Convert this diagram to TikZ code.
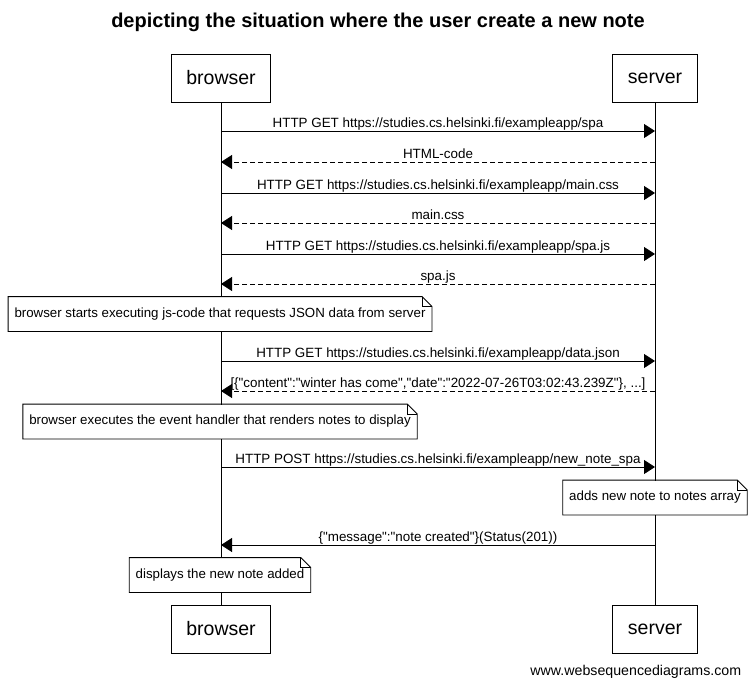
\documentclass[tikz,border=0pt]{standalone}
\usepackage{fontspec}
\setmainfont{Liberation Sans}
\usetikzlibrary{positioning, arrows.meta}
\tikzset{
    actor/.style={draw, fill=white, minimum height=48pt, inner xsep=15pt,
        font=\fontsize{19.5}{22}\selectfont}, % the participant boxes
    msg/.style={-{Triangle[length=11pt,width=14pt]}}, % a request
    reply/.style={msg, dash pattern=on 5pt off 3pt}, % a dashed answer
    msgtext/.style={anchor=base, yshift=4pt, inner sep=0pt,
        font=\fontsize{13.4}{15}\selectfont},
    note/.style={fill=white, minimum height=34pt, inner xsep=6pt,
        font=\fontsize{13.3}{15}\selectfont}, % outline is drawn later
}

\begin{document}
\begin{tikzpicture}[x=1pt, y=-1pt, line width=0.9pt]
    \useasboundingbox (0,0) rectangle (754,688);

    \node[font=\bfseries\fontsize{20}{23}\selectfont] (title) at (378,22)
        {depicting the situation where the user create a new note};

    \node[actor] (browser) at (221,78) {browser};
    \node[actor] (server) at (655,78) {server};
    \node[actor] (browser2) at (221,629) {browser};
    \node[actor] (server2) at (655,629) {server};

    % lifelines
    \draw (browser) -- (browser2);
    \draw (server) -- (server2);

    % message ends on both lifelines
    \foreach \i/\y in {1/131, 2/162, 3/193, 4/223, 5/254, 6/284, 7/361, 8/391, 9/467, 10/545}{
        \coordinate (b\i) at (221,\y);
        \coordinate (s\i) at (655,\y);
    }

    \draw[msg]   (b1) -- node[msgtext]{HTTP GET https://studies.cs.helsinki.fi/exampleapp/spa} (s1);
    \draw[reply] (s2) -- node[msgtext]{HTML-code} (b2);
    \draw[msg]   (b3) -- node[msgtext]{HTTP GET https://studies.cs.helsinki.fi/exampleapp/main.css} (s3);
    \draw[reply] (s4) -- node[msgtext]{main.css} (b4);
    \draw[msg]   (b5) -- node[msgtext]{HTTP GET https://studies.cs.helsinki.fi/exampleapp/spa.js} (s5);
    \draw[reply] (s6) -- node[msgtext]{spa.js} (b6);

    \node[note] (n1) at (220,314) {browser starts executing js-code that requests JSON data from server};

    \draw[msg]   (b7) -- node[msgtext]{HTTP GET https://studies.cs.helsinki.fi/exampleapp/data.json} (s7);
    \draw[reply] (s8) -- node[msgtext]{[\{\textquotedbl content\textquotedbl:\textquotedbl winter has come\textquotedbl,\textquotedbl date\textquotedbl:\textquotedbl 2022-07-26T03:02:43.239Z\textquotedbl\}, ...]} (b8);

    \node[note] (n2) at (220,421.5) {browser executes the event handler that renders notes to display};

    \draw[msg]   (b9) -- node[msgtext]{HTTP POST https://studies.cs.helsinki.fi/exampleapp/new\_note\_spa} (s9);

    \node[note] (n3) at (655,497.5) {adds new note to notes array};

    \draw[msg]   (s10) -- node[msgtext]{\{\textquotedbl message\textquotedbl:\textquotedbl note created\textquotedbl\}(Status(201))} (b10);

    \node[note] (n4) at (220,575) {displays the new note added};

    % note outlines with the folded corner
    \foreach \n in {n1, n2, n3, n4}{
        \draw (\n.south west) -- (\n.north west) -- ([xshift=-10pt]\n.north east)
            -- ([yshift=-10pt]\n.north east) -- (\n.south east) -- cycle;
        \draw[line width=0.6pt] ([xshift=-10pt]\n.north east) |- ([yshift=-10pt]\n.north east);
    }

    \node[anchor=east, font=\fontsize{14.2}{16}\selectfont] (site) at (745,672) {www.websequencediagrams.com};
\end{tikzpicture}
\end{document}
